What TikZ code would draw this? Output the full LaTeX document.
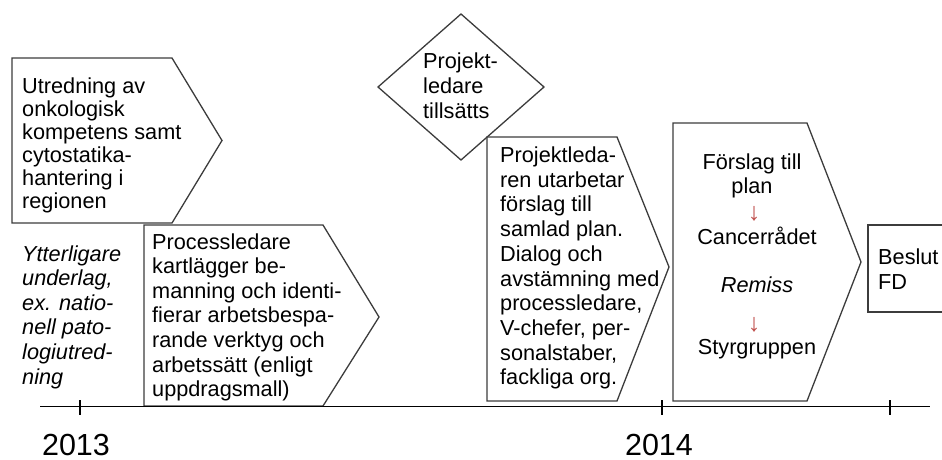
\documentclass[tikz,border=0pt]{standalone}
\usepackage{fontspec}
\setmainfont{Liberation Sans}
\usepackage{xcolor}
\usepackage{tikz}
\definecolor{edgegray}{RGB}{60,60,60}
\definecolor{arrowred}{RGB}{192,80,77}

\begin{document}
\begin{tikzpicture}[x=1pt, y=-1pt,
  box/.style={draw=edgegray, line width=1.3pt, fill=white},
  txt/.style={anchor=base west, inner sep=0pt, align=left, font=\fontsize{21.7}{24.8}\selectfont},
  ctxt/.style={anchor=base, inner sep=0pt, align=center, font=\fontsize{21.7}{24.4}\selectfont},
  pil/.style={anchor=base, inner sep=0pt, text=arrowred, font=\fontsize{25}{27}\selectfont},
  year/.style={anchor=base, inner sep=0pt, font=\fontsize{30.5}{36}\selectfont}]
\useasboundingbox (0,0) rectangle (942,460);
\clip (0,-20) rectangle (942,480);

% Boxes
\draw[box] (12,58) -- (172,58) -- (222,140.5) -- (172,223) -- (12,223) -- cycle;
\draw[box] (144,225) -- (323,225) -- (379,317) -- (323,406) -- (144,406) -- cycle;
\draw[box] (378,87) -- (461,14) -- (544,87) -- (461,160) -- cycle;
\draw[box] (487,137) -- (617,137) -- (669,267) -- (617,401) -- (487,401) -- cycle;
\draw[box] (673,123) -- (807,123) -- (861,262) -- (807,401) -- (673,401) -- cycle;
\draw[box] (868,225) rectangle (960,312);

% Texts (placed at the baseline of their last line)
\node[txt, font=\fontsize{21.7}{23}\selectfont] (utred) at (22,208.5) {Utredning av\\onkologisk\\kompetens samt\\cytostatika-\\hantering i\\regionen};
\node[txt, font=\fontsize{21.7}{24.6}\selectfont\itshape] (ytter) at (22,384) {Ytterligare\\underlag,\\ex. natio-\\nell pato-\\logiutred-\\ning};
\node[txt, font=\fontsize{21.7}{24.6}\selectfont] (proc) at (152,396.6) {Processledare\\kartlägger be-\\manning och identi-\\fierar arbetsbespa-\\rande verktyg och\\arbetssätt (enligt\\uppdragsmall)};
\node[txt] (tills) at (423,118.6) {Projekt-\\ledare\\tillsätts};
\node[txt, font=\fontsize{21.7}{24.7}\selectfont] (projl) at (500,384.8) {Projektleda-\\ren utarbetar\\förslag till\\samlad plan.\\Dialog och\\avstämning med\\processledare,\\V-chefer, per-\\sonalstaber,\\fackliga org.};
\node[ctxt] (forsl) at (752,193.4) {Förslag till\\plan};
\node[pil] (pil1) at (754,220) {↓};
\node[ctxt] (canc) at (757,244) {Cancerrådet};
\node[ctxt, font=\fontsize{21.7}{24.4}\selectfont\itshape] (remiss) at (757,292) {Remiss};
\node[pil] (pil2) at (754,331) {↓};
\node[ctxt] (styr) at (757,354) {Styrgruppen};
\node[txt] (beslut) at (878,289.3) {Beslut\\FD};

%Timeline
\coordinate (start) at (40,406.5);
\coordinate (end) at (930,406.5);
\draw[line width=1.5pt] (start) -- (end);
\foreach \x in {80,662,890}
  \draw[line width=1.3pt] (\x,400) -- (\x,415);
\node[year] (y2013) at (76,455) {2013};
\node[year] (y2014) at (659,455) {2014};
\end{tikzpicture}
\end{document}
